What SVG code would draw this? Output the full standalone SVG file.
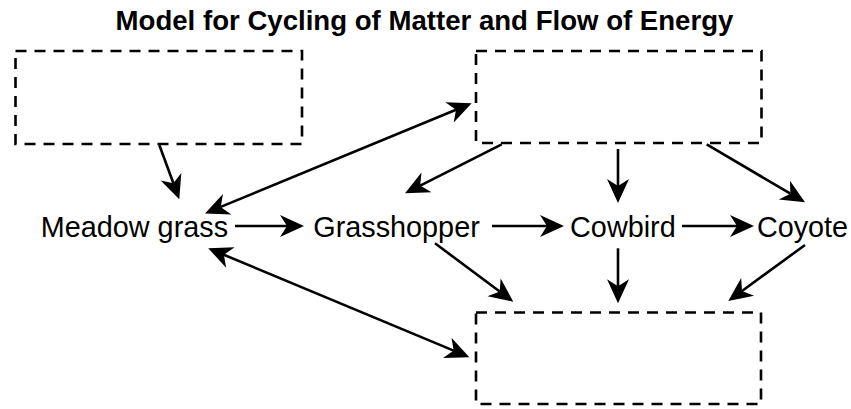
<svg xmlns="http://www.w3.org/2000/svg" width="851" height="409" viewBox="0 0 851 409">
<style>
.box{fill:none;stroke:#000;stroke-width:2.6;stroke-dasharray:11 8}
.lbl{font-family:"Liberation Sans",Arial,sans-serif;font-size:28.8px;fill:#000;text-anchor:middle}
.title{font-family:"Liberation Sans",Arial,sans-serif;font-size:27.6px;font-weight:bold;fill:#000;text-anchor:middle}
.c{fill:none;stroke:#000;stroke-width:2.6;marker-end:url(#ah)}
.d{marker-start:url(#ah)}
</style>
<defs>
<marker id="ah" markerUnits="userSpaceOnUse" markerWidth="26" markerHeight="24" refX="7" refY="11" orient="auto-start-reverse" overflow="visible">
<path d="M0,0 L24,11 L0,22 L7,11 Z" fill="#000"/>
</marker>
</defs>
<rect width="851" height="409" fill="#fff"/>
<text class="title" x="424.5" y="30">Model for Cycling of Matter and Flow of Energy</text>
<g id="box1"><rect class="box" x="15.5" y="51" width="286.5" height="93"/></g>
<g id="box2"><rect class="box" x="476" y="51" width="285.5" height="92"/></g>
<g id="box3"><rect class="box" x="476" y="312.5" width="285" height="91.5"/></g>
<g id="meadow"><text class="lbl" x="134.4" y="237.3">Meadow grass</text></g>
<g id="grasshopper"><text class="lbl" x="396.5" y="237.3">Grasshopper</text></g>
<g id="cowbird"><text class="lbl" x="622.9" y="237.3">Cowbird</text></g>
<g id="coyote"><text class="lbl" x="802.5" y="237.3">Coyote</text></g>
<g id="connectors">
<path class="c" d="M159.3,145 L173.4,183.3"/>
<path class="c" d="M235,226 L287,226"/>
<path class="c" d="M492,226 L547,226"/>
<path class="c" d="M682,226 L737,226"/>
<path class="c d" d="M220.7,206.9 L456,109.7"/>
<path class="c d" d="M223.9,254.8 L453.7,350.6"/>
<path class="c" d="M501.7,144.3 L420.2,185.6"/>
<path class="c" d="M618,149 L618,186"/>
<path class="c" d="M706.7,144.3 L790.4,193.7"/>
<path class="c" d="M435,243.3 L499.7,291.5"/>
<path class="c" d="M618,248.3 L618,286.3"/>
<path class="c" d="M805,245 L742,291"/>
</g>
</svg>
